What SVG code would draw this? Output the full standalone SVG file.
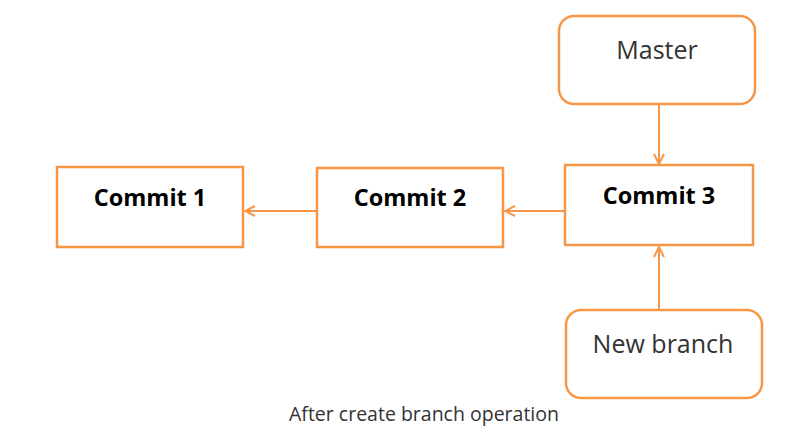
<svg xmlns="http://www.w3.org/2000/svg" width="812" height="440" viewBox="0 0 812 440">
<style>
.box{fill:#fff;stroke:#F79646;stroke-width:2.5}
.b{font-family:"Open Sans","Liberation Sans",sans-serif;font-size:23.5px;font-weight:bold;fill:#000;text-anchor:middle}
.n{font-family:"Open Sans","Liberation Sans",sans-serif;font-size:25px;fill:#333;text-anchor:middle}
.c{font-family:"Open Sans","Liberation Sans",sans-serif;font-size:19.5px;fill:#333;text-anchor:middle}
.edge{stroke:#F79646;stroke-width:2;fill:none}
</style>
<defs>
<marker id="arr" viewBox="0 0 12 12" refX="11" refY="6" markerWidth="12" markerHeight="12" markerUnits="userSpaceOnUse" orient="auto">
<path d="M1,1 L11,6 L1,11" fill="none" stroke="#F79646" stroke-width="2"/>
</marker>
</defs>
<rect width="812" height="440" fill="#fff"/>
<g id="edges">
<line class="edge" x1="317" y1="211" x2="245" y2="211" marker-end="url(#arr)"/>
<line class="edge" x1="565" y1="211" x2="505" y2="211" marker-end="url(#arr)"/>
<line class="edge" x1="659" y1="105" x2="659" y2="164" marker-end="url(#arr)"/>
<line class="edge" x1="659" y1="310" x2="659" y2="247" marker-end="url(#arr)"/>
</g>
<g id="commit1"><rect class="box" x="57" y="167" width="186" height="80"/><text class="b" x="150" y="206">Commit 1</text></g>
<g id="commit2"><rect class="box" x="317" y="168" width="186" height="79"/><text class="b" x="410" y="206">Commit 2</text></g>
<g id="commit3"><rect class="box" x="565" y="165" width="188" height="80"/><text class="b" x="659" y="204">Commit 3</text></g>
<g id="master"><rect class="box" x="559" y="16" width="196" height="88" rx="15"/><text class="n" x="657" y="59">Master</text></g>
<g id="newbranch"><rect class="box" x="566" y="310" width="196" height="88" rx="15"/><text class="n" x="663" y="353">New branch</text></g>
<text class="c" x="424" y="421">After create branch operation</text>
</svg>
